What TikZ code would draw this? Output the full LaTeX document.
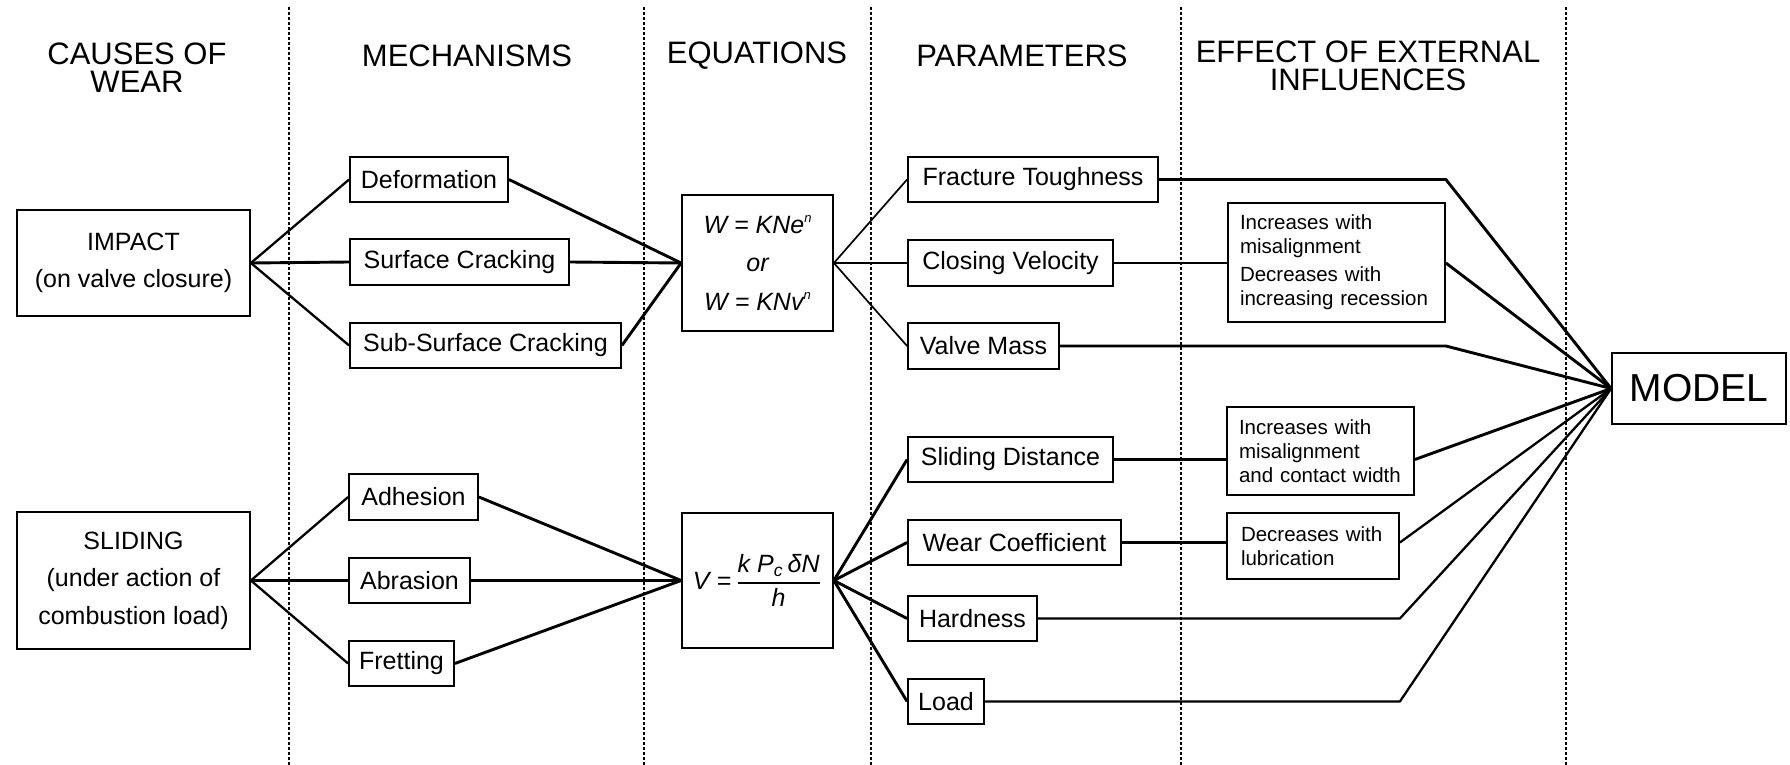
\documentclass[tikz,border=0pt]{standalone}
\usepackage{amsmath}
\usepackage{fontspec}
\setmainfont{Liberation Sans}
\newcommand{\tinysup}[1]{\raisebox{5.2pt}{\fontsize{6.5}{6.5}\selectfont #1}}
\begin{document}
\begin{tikzpicture}[x=0.5pt,y=-0.5pt,
  box/.style={draw,line width=0.9pt,inner sep=2pt,font=\fontsize{12.5}{15}\selectfont},
  ibox/.style={draw,line width=0.9pt,inner xsep=6pt,inner ysep=2pt,align=left,font=\fontsize{10.25}{12}\selectfont},
  hdr/.style={font=\fontsize{15.5}{14}\selectfont,align=center,inner sep=0pt},
  sep/.style={line width=0.7pt,dash pattern=on 1.5pt off 1pt},
  cthick/.style={line width=1.45pt,line join=round},
  cmed/.style={line width=1.15pt,line join=round},
  cthin/.style={line width=0.85pt,line join=round}]
\useasboundingbox (0,0) rectangle (1790,765);

% separators
\foreach \xx in {289,644,871,1181,1566}
  \draw[sep] (\xx,7) -- (\xx,765);

% headers
\node[hdr] (h1) at (137,68) {CAUSES OF\\WEAR};
\node[hdr] (h2) at (467,56) {MECHANISMS};
\node[hdr] (h3) at (757,56) {EQUATIONS};
\node[hdr] (h4) at (1022,56) {PARAMETERS};
\node[hdr] (h5) at (1368,65.5) {EFFECT OF EXTERNAL\\INFLUENCES};

% causes
\node[box,minimum width=116.5pt,minimum height=53pt,align=center,font=\fontsize{12.5}{18.5}\selectfont] (impact) at (133.5,263) {IMPACT\\(on valve closure)};
\node[box,minimum width=116.5pt,minimum height=68.5pt,align=center,font=\fontsize{12.5}{18.75}\selectfont] (slide) at (133.5,580.5) {SLIDING\\(under action of\\combustion load)};

% mechanisms
\node[box,minimum width=79pt,minimum height=22.5pt] (def) at (429,179.5) {Deformation};
\node[box,minimum width=109.5pt,minimum height=23pt] (sc) at (459.5,262) {Surface Cracking};
\node[box,minimum width=135.5pt,minimum height=22.5pt] (ssc) at (485.5,345.5) {Sub-Surface Cracking};
\node[box,minimum width=64.5pt,minimum height=23pt] (adh) at (413.5,497) {Adhesion};
\node[box,minimum width=60.5pt,minimum height=22.5pt] (abr) at (409.5,580.5) {Abrasion};
\node[box,minimum width=52.5pt,minimum height=22.5pt] (fret) at (401.5,663.5) {Fretting};

% equations
\node[box,minimum width=75.5pt,minimum height=68pt,align=center,font=\fontsize{12.5}{19.25}\selectfont\itshape] (eq1) at (757.5,263) {W = KNe\tinysup{n}\\or\\W = KNv\tinysup{n}};
\node[box,minimum width=75.5pt,minimum height=67.5pt] (eq2) at (757.5,580.5) {\itshape V =\,$\genfrac{}{}{0.7pt}{0}{\mbox{\itshape k P\textsubscript{c}\,δN}}{\mbox{\itshape h}}$};

% parameters
\node[box,minimum width=125pt,minimum height=22.5pt] (ft) at (1033,179.5) {Fracture Toughness};
\node[box,minimum width=102.5pt,minimum height=23pt] (cv) at (1010.5,263) {Closing Velocity};
\node[box,minimum width=75.5pt,minimum height=23pt] (vm) at (983.5,346) {Valve Mass};
\node[box,minimum width=102.5pt,minimum height=22.5pt] (sd) at (1010.5,459.5) {Sliding Distance};
\node[box,minimum width=106.5pt,minimum height=22.5pt] (wc) at (1014.5,542.5) {Wear Coefficient};
\node[box,minimum width=64.5pt,minimum height=22.5pt] (hard) at (972.5,618.5) {Hardness};
\node[box,minimum width=38pt,minimum height=22.5pt] (load) at (946,701.5) {Load};

% external influences
\node[ibox,text width=96.5pt,minimum height=59.5pt] (i1) at (1336.5,262.5) {Increases with\\misalignment\\[2pt]Decreases with\\increasing recession};
\node[ibox,text width=81.5pt,minimum height=44pt] (i2) at (1320.5,451) {Increases with\\misalignment\\and contact width};
\node[ibox,text width=72pt,inner xsep=7pt,minimum height=33pt] (i3) at (1313,546) {Decreases with\\lubrication};

% model
\node[box,minimum width=87pt,minimum height=35.5pt,font=\fontsize{19.5}{20}\selectfont] (model) at (1699,388.5) {MODEL};

% causes -> mechanisms
\draw[cmed] (impact.east) -- (def.west);
\draw[cthick] (impact.east) -- (sc.west);
\draw[cmed] (impact.east) -- (ssc.west);
\draw[cmed] (slide.east) -- (adh.west);
\draw[cthick] (slide.east) -- (abr.west);
\draw[cmed] (slide.east) -- (fret.west);

% mechanisms -> equations
\draw[cthick] (def.east) -- (eq1.west);
\draw[cthick] (sc.east) -- (eq1.west);
\draw[cthick] (ssc.east) -- (eq1.west);
\draw[cthick] (adh.east) -- (eq2.west);
\draw[cthick] (abr.east) -- (eq2.west);
\draw[cthick] (fret.east) -- (eq2.west);

% equations -> parameters
\draw[cthin] (eq1.east) -- (ft.west);
\draw[cthick] (eq1.east) -- (cv.west);
\draw[cthin] (eq1.east) -- (vm.west);
\draw[cthick] (eq2.east) -- (sd.west);
\draw[cthick] (eq2.east) -- (wc.west);
\draw[cthick] (eq2.east) -- (hard.west);
\draw[cthick] (eq2.east) -- (load.west);

% parameters -> influences -> model
\draw[cthick] (ft.east) -- (ft.east -| i1.east) -- (model.west);
\draw[cthick] (cv.east) -- (cv.east -| i1.west);
\draw[cthick] (cv.east -| i1.east) -- (model.west);
\draw[cthick] (vm.east) -- (vm.east -| i1.east) -- (model.west);
\draw[cthick] (sd.east) -- (sd.east -| i2.west);
\draw[cthick] (sd.east -| i2.east) -- (model.west);
\draw[cthick] (wc.east) -- (wc.east -| i3.west);
\draw[cmed] (wc.east -| i3.east) -- (model.west);
\draw[cmed] (hard.east) -- (hard.east -| i3.east) -- (model.west);
\draw[cmed] (load.east) -- (load.east -| i3.east) -- (model.west);
\end{tikzpicture}
\end{document}
